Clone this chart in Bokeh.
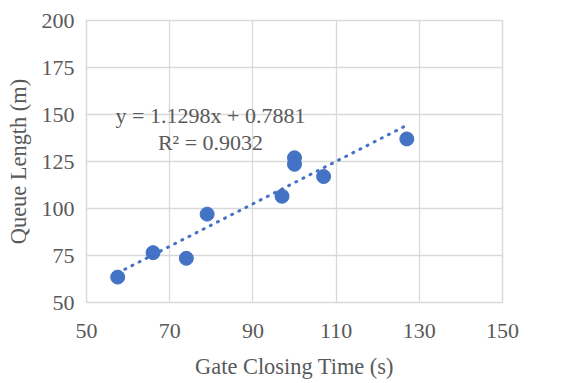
import numpy as np
from bokeh.plotting import figure
from bokeh.models import FixedTicker, Label, Range1d
from bokeh.embed import file_html
from bokeh.resources import INLINE

# Data
gate_time = [57.5, 66, 74, 79, 97, 100, 100, 107, 127]
queue_len = [63.5, 76.5, 73.5, 97, 106.5, 127, 123.5, 117, 137]
slope = 1.1298
intercept = 0.7881
r_squared = 0.9032
x_ticks = [50, 70, 90, 110, 130, 150]
y_ticks = [50, 75, 100, 125, 150, 175, 200]

FONT = "Liberation Serif"
TXT = "#595959"
GRID = "#d9d9d9"
BLUE = "#4472C4"

p = figure(width=565, height=383, output_backend="svg", toolbar_location=None,
           x_range=Range1d(50, 150), y_range=Range1d(50, 200),
           min_border_left=86, min_border_right=63, min_border_top=20, min_border_bottom=81,
           background_fill_color="white", border_fill_color="white")

p.outline_line_color = GRID
p.outline_line_width = 1.5

for ax in (p.xaxis, p.yaxis):
    ax.axis_line_color = None
    ax.major_tick_line_color = None
    ax.minor_tick_line_color = None
    ax.major_tick_out = 0
    ax.major_tick_in = 0
    ax.minor_tick_out = 0
    ax.minor_tick_in = 0
    ax.major_label_text_font = FONT
    ax.major_label_text_font_size = "22px"
    ax.major_label_text_color = TXT
    ax.axis_label_text_font = FONT
    ax.axis_label_text_font_size = "22.4px"
    ax.axis_label_text_font_style = "normal"
    ax.axis_label_text_color = TXT

p.xaxis.ticker = FixedTicker(ticks=x_ticks)
p.yaxis.ticker = FixedTicker(ticks=y_ticks)
p.xaxis.axis_label = "Gate Closing Time (s)"
p.yaxis.axis_label = "Queue Length (m)"
p.xaxis.major_label_standoff = 21
p.yaxis.major_label_standoff = 12
p.xaxis.axis_label_standoff = 13
p.yaxis.axis_label_standoff = 8

p.xgrid.ticker = FixedTicker(ticks=x_ticks)
p.ygrid.ticker = FixedTicker(ticks=y_ticks)
p.xgrid.grid_line_color = GRID
p.ygrid.grid_line_color = GRID
p.xgrid.grid_line_width = 1.3
p.ygrid.grid_line_width = 1.3

p.scatter(gate_time, queue_len, size=14, color=BLUE, line_color=BLUE)

tx = np.array([min(gate_time), max(gate_time)])
ty = slope * tx + intercept
p.line(tx, ty, line_color=BLUE, line_width=3, line_dash="1 7", line_cap="round")

eq = Label(x=79.8, y=149.5, text=f"y = {slope}x + {intercept}", text_align="center",
           text_baseline="middle", text_font=FONT, text_font_size="22px", text_color=TXT)
r2 = Label(x=79.8, y=135.1, text=f"R² = {r_squared}", text_align="center",
           text_baseline="middle", text_font=FONT, text_font_size="22px", text_color=TXT)
p.add_layout(eq)
p.add_layout(r2)

open("out.html", "w").write(file_html(p, INLINE))
